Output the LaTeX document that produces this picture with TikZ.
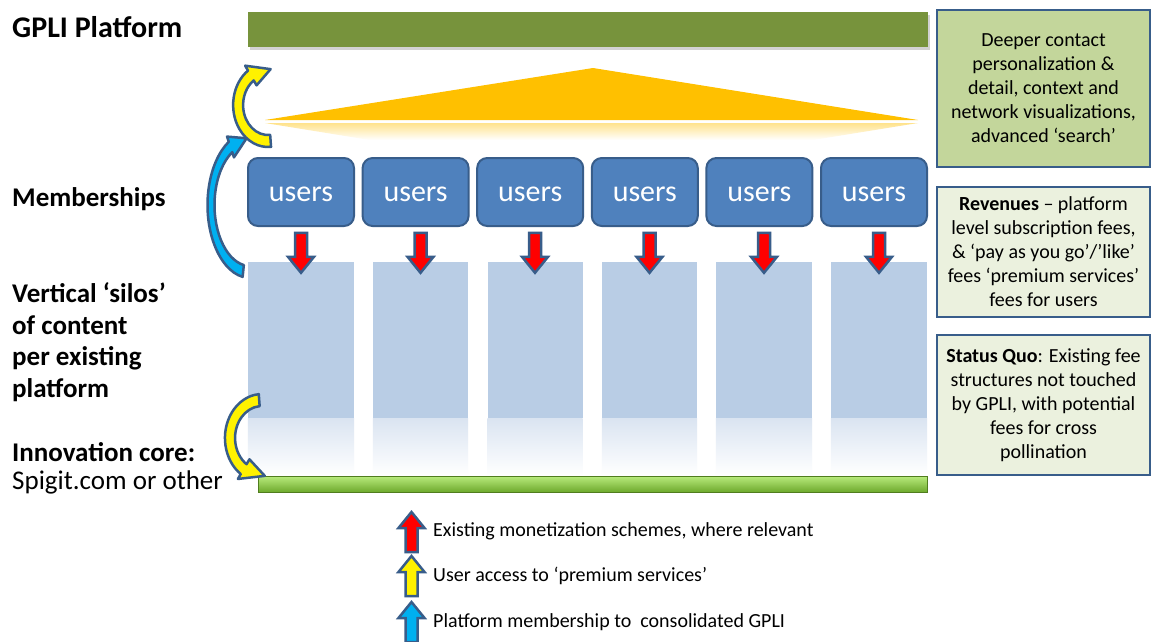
\documentclass[tikz,border=0pt]{standalone}
\usepackage{fontspec}
\setmainfont{Carlito}
\usetikzlibrary{calc,shadows}

\definecolor{platgreen}{RGB}{119,147,60}
\definecolor{trigold}{RGB}{255,192,0}
\definecolor{userblue}{RGB}{79,129,189}
\definecolor{edgeblue}{RGB}{56,93,138}
\definecolor{silo}{RGB}{185,205,229}
\definecolor{silofade}{RGB}{218,228,241}
\definecolor{corelight}{RGB}{185,235,125}
\definecolor{coredark}{RGB}{110,170,45}
\definecolor{coreedge}{RGB}{80,125,30}
\definecolor{deepgreen}{RGB}{195,214,155}
\definecolor{palegreen}{RGB}{235,241,222}
\definecolor{memblue}{RGB}{0,176,240}

% curved block arrow: fill, centre, xscale, radius, start, end, head sweep
\newcommand\bentarrow[7]{%
  \begin{scope}[shift={#2},xscale=#3]
    \filldraw[fill=#1,draw=edgeblue,line width=2.5pt,line join=round]
      ({#5}:{#4-6}) arc[start angle=#5,end angle=#6,radius=#4-6]
      -- ({#6}:{#4-12}) -- ({#6+#7}:{#4}) -- ({#6}:{#4+12}) -- ({#6}:{#4+6})
      arc[start angle=#6,end angle=#5,radius=#4+6] -- cycle;
  \end{scope}}

\tikzset{
  pics/blockarrow/.style={code={
    \filldraw[fill=#1,draw=edgeblue,line width=2.5pt]
      (0,0) -- (13,16) -- (6,16) -- (6,40) -- (-6,40) -- (-6,16) -- (-13,16) -- cycle;
  }},
  leftlabel/.style={anchor=west,inner sep=0,font=\fontsize{27}{31.7}\selectfont\bfseries},
  userbox/.style={draw=edgeblue,line width=2pt,fill=userblue,rounded corners=10pt,
    minimum width=106,minimum height=68,inner sep=0,text height=18pt,text depth=0pt,
    text=white,font=\fontsize{30}{36}\selectfont},
  silobox/.style={fill=silo,minimum height=156,inner sep=0},
  infobox/.style={draw=edgeblue,line width=2.5pt,minimum width=213,inner sep=0,align=center,
    font=\fontsize{20}{24}\selectfont},
  legendtext/.style={anchor=west,inner sep=0,font=\fontsize{20}{24}\selectfont}
}

\begin{document}
\begin{tikzpicture}[x=1pt,y=-1pt]
  \useasboundingbox[fill=white] (0,0) rectangle (1152,641);

  % platform bar and roof
  \node[fill=platgreen,minimum width=680,minimum height=35,inner sep=0,
    drop shadow={shadow xshift=2pt,shadow yshift=-3pt,opacity=0.35}] (gpli) at (588,29.5) {};
  \fill[trigold] (265,120) -- (593,68) -- (918,120) -- cycle;
  \shade[top color=trigold!45,bottom color=white] (265,123) -- (918,123) -- (813,140) -- (370,140) -- cycle;

  % users and silos
  \foreach \i in {1,...,6}{
    \node[userbox] (u\i) at ({301+114.6*(\i-1)},192) {users};
  }
  \foreach \x/\w [count=\i] in {301/106,420.5/95,535/95,649.5/95,764/96,879/96}{
    \node[silobox,minimum width=\w] (s\i) at (\x,340) {};
    \shade[top color=silofade,bottom color=white] (s\i.south west) rectangle ($(s\i.south east)+(0,57)$);
    \pic[rotate=180] at ($(s\i.north)+(0,11)$) {blockarrow=red};
  }

  % innovation core
  \node[top color=corelight,bottom color=coredark,draw=coreedge,line width=1pt,
    minimum width=669,minimum height=16,inner sep=0] (core) at (592.5,484) {};

  % curved arrows
  \bentarrow{memblue}{(250,205)}{0.582}{67}{100}{240}{25}
  \bentarrow{yellow}{(268,105)}{0.83}{36}{85}{235}{40}
  \bentarrow{yellow}{(262,438)}{0.842}{38}{265}{125}{-40}

  % left labels
  \node[leftlabel,font=\fontsize{30}{36}\selectfont\bfseries] (lplat) at (12,27) {GPLI Platform};
  \node[leftlabel] (lmem) at (12,199) {Memberships};
  \node[leftlabel,align=left] (lsilo) at (12,342) {Vertical ‘silos’\\of content\\per existing\\platform};
  \node[leftlabel] (lcore) at (12,452) {Innovation core:};
  \node[leftlabel,font=\fontsize{27}{31.7}\selectfont] (lspigit) at (12,482) {Spigit.com or other};

  % right boxes
  \node[infobox,fill=deepgreen,minimum height=157] (deeper) at (1043.5,88.5)
    {Deeper contact\\personalization \&\\detail, context and\\network visualizations,\\advanced ‘search’};
  \node[infobox,fill=palegreen,minimum height=130] (revenue) at (1043.5,252)
    {\textbf{Revenues} – platform\\level subscription fees,\\\& ‘pay as you go’/’like’\\fees ‘premium services’\\fees for users};
  \node[infobox,fill=palegreen,minimum height=140] (quo) at (1043.5,405)
    {\textbf{Status Quo}: Existing fee\\structures not touched\\by GPLI, with potential\\fees for cross\\pollination};

  % legend
  \pic at (411.5,512) {blockarrow=red};
  \pic at (411.5,556) {blockarrow=yellow};
  \pic at (411.5,602) {blockarrow=memblue};
  \node[legendtext] (leg1) at (433,531) {Existing monetization schemes, where relevant};
  \node[legendtext] (leg2) at (433,576) {User access to ‘premium services’};
  \node[legendtext] (leg3) at (433,622) {Platform membership to\ \ consolidated GPLI};
\end{tikzpicture}
\end{document}
